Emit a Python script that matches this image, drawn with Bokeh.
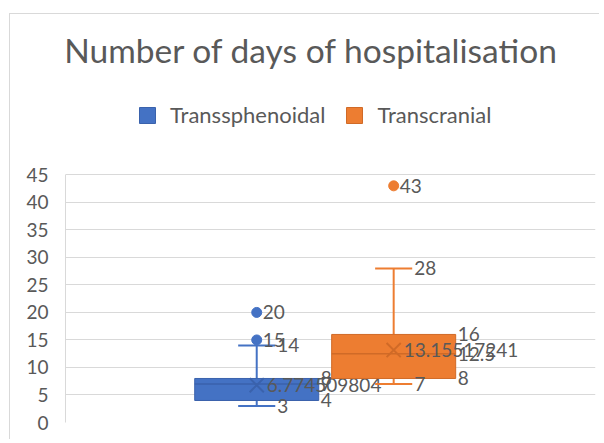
from bokeh.plotting import figure
from bokeh.models import Range1d, Legend, LegendItem, ColumnDataSource, FixedTicker, Label
from bokeh.embed import file_html
from bokeh.resources import INLINE
from bokeh.core.properties import value

# ---- data ----
title_text = "Number of days of hospitalisation"
series = ["Transsphenoidal", "Transcranial"]
fill_colors = ["#4472C4", "#ED7D31"]
line_colors = ["#3A62AC", "#D06A27"]
q1 = [4, 8]
median = [7, 12.5]
q3 = [8, 16]
whisker_low = [3, 7]
whisker_high = [14, 28]
mean = [6.774509804, 13.15517241]
outliers = [[15, 20], [43]]
y_ticks = [0, 5, 10, 15, 20, 25, 30, 35, 40, 45]

# ---- layout settings ----
offsets = [-0.1292, 0.1292]
box_w = 0.234
cap_w = 0.07
FONT = "Lato"
TXT = "#595959"
GRID = "#D9D9D9"
Y_TOP = 74.13   # extra headroom so that title and legend sit inside the frame


def fmt(v):
    return f"{v:.10g}"


p = figure(width=590, height=426, output_backend="svg", toolbar_location=None,
           x_range=Range1d(-0.49, 0.51), y_range=Range1d(0, Y_TOP),
           min_border_left=55, min_border_right=5, min_border_top=0, min_border_bottom=18,
           x_axis_location=None)
p.styles = {"margin-left": "9px", "margin-top": "13px",
            "border-left": "1px solid #D9D9D9", "border-top": "1px solid #D9D9D9"}
p.outline_line_color = None
p.xgrid.visible = False
p.ygrid.grid_line_color = GRID
p.ygrid.grid_line_width = 1
p.yaxis.ticker = FixedTicker(ticks=y_ticks)
p.yaxis.bounds = (y_ticks[0], y_ticks[-1])
p.yaxis.axis_line_color = GRID
p.yaxis.major_tick_line_color = None
p.yaxis.minor_tick_line_color = None
p.yaxis.major_tick_out = 0
p.yaxis.major_label_standoff = 17
p.yaxis.major_label_text_font = FONT
p.yaxis.major_label_text_font_size = "19px"
p.yaxis.major_label_text_color = TXT

box_renderers = []
for i, name in enumerate(series):
    xc = offsets[i]
    fc, lc = fill_colors[i], line_colors[i]
    # whiskers
    p.segment(x0=[xc, xc], y0=[q3[i], q1[i]], x1=[xc, xc], y1=[whisker_high[i], whisker_low[i]],
              line_color=fc, line_width=2)
    p.segment(x0=[xc - cap_w / 2] * 2, y0=[whisker_high[i], whisker_low[i]],
              x1=[xc + cap_w / 2] * 2, y1=[whisker_high[i], whisker_low[i]],
              line_color=fc, line_width=2)
    # box
    r = p.vbar(x=[xc], width=box_w, bottom=[q1[i]], top=[q3[i]],
               fill_color=fc, line_color=lc, line_width=1)
    box_renderers.append(r)
    # median
    p.segment(x0=[xc - box_w / 2], y0=[median[i]], x1=[xc + box_w / 2], y1=[median[i]],
              line_color=lc, line_width=1.5)
    # mean
    p.scatter(x=[xc], y=[mean[i]], marker="x", size=20, line_color=lc, line_width=2)
    # outliers
    p.scatter(x=[xc] * len(outliers[i]), y=outliers[i], marker="circle", size=10,
              fill_color=fc, line_color=fc)

    # labels
    lx, ly, lt, lo = [], [], [], []
    for v in (q3[i], median[i], q1[i]):
        lx.append(xc + box_w / 2); ly.append(v); lt.append(fmt(v)); lo.append(2)
    for v in (whisker_high[i], whisker_low[i]):
        lx.append(xc + cap_w / 2); ly.append(v); lt.append(fmt(v)); lo.append(2)
    for v in outliers[i]:
        lx.append(xc); ly.append(v); lt.append(fmt(v)); lo.append(6)
    lx.append(xc); ly.append(mean[i]); lt.append(fmt(mean[i])); lo.append(10)
    src = ColumnDataSource(dict(x=lx, y=ly, text=lt, xo=lo))
    p.text(x="x", y="y", text="text", x_offset="xo", source=src,
           text_font=value(FONT), text_font_size="19px", text_color=TXT,
           text_align="left", text_baseline="middle")

legend = Legend(items=[LegendItem(label=s, renderers=[r]) for s, r in zip(series, box_renderers)],
                orientation="horizontal", location=(72, 294),
                glyph_width=20, glyph_height=20, label_height=20, label_standoff=13,
                spacing=19, padding=0, margin=0,
                border_line_color=None, background_fill_alpha=0,
                label_text_font=FONT, label_text_font_size="22px", label_text_color=TXT)
p.add_layout(legend, "center")

title = Label(x=246, y=373, x_units="screen", y_units="screen", text=title_text,
              text_align="center", text_baseline="alphabetic",
              text_font=FONT, text_font_size="33.5px", text_color=TXT)
p.add_layout(title)

open("out.html", "w").write(file_html(p, INLINE))
